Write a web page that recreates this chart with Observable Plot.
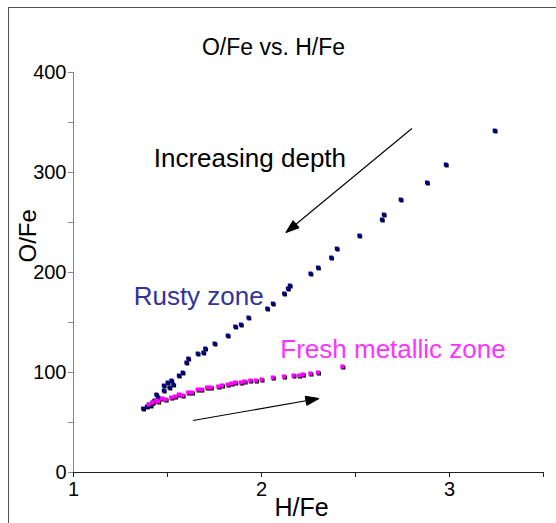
<!DOCTYPE html>
<html><head><meta charset="utf-8">
<script src="https://cdn.jsdelivr.net/npm/d3@7"></script>
<script src="https://cdn.jsdelivr.net/npm/@observablehq/plot@0.6"></script>
<style>
body{margin:0;background:#fff;}
#wrap{position:relative;width:556px;height:523px;overflow:hidden;}
#frame{position:absolute;left:8px;top:7px;width:600px;height:600px;border-top:1px solid #555;border-left:1px solid #555;}
#chart{position:absolute;left:0;top:0;}
</style>
</head><body><div id="wrap"><div id="frame"></div><div id="chart"></div></div>
<script>
const title = "O/Fe vs. H/Fe";
const xLabel = "H/Fe";
const yLabel = "O/Fe";
const xTicks = [1, 1.5, 2, 2.5, 3, 3.5];
const xTickLabels = [1, 2, 3];
const yTicks = [0, 50, 100, 150, 200, 250, 300, 350, 400];
const yTickLabels = [0, 100, 200, 300, 400];

const rustyH = [1.37,1.39,1.40,1.41,1.42,1.43,1.45,1.44,1.48,1.48,1.51,1.50,1.52,1.53,1.56,1.58,1.60,1.61,1.66,1.69,1.70,1.75,1.82,1.86,1.89,1.93,2.03,2.06,2.12,2.14,2.15,2.26,2.30,2.37,2.40,2.52,2.64,2.65,2.74,2.88,2.98,3.24];
const rustyO = [64,66,68,67,70,72,75,78,82,87,85,90,92,88,97,100,110,114,119,120,124,129,137,146,148,155,164,169,179,184,187,199,205,215,224,237,253,258,273,290,308,342];

const freshH = [1.40,1.42,1.44,1.45,1.47,1.49,1.52,1.54,1.56,1.58,1.61,1.63,1.66,1.68,1.71,1.73,1.77,1.79,1.82,1.84,1.86,1.89,1.91,1.94,1.97,2.00,2.06,2.12,2.17,2.20,2.22,2.26,2.30,2.43];
const freshO = [68,70,72,71,74,73,75,76,78,77,80,80,83,83,85,85,86,87,88,89,90,90,91,92,92,93,95,96,97,97,98,99,100,106];

const notes = [
  {text: "Increasing depth", h: 1.427, o: 314, color: "#000000"},
  {text: "Rusty zone", h: 1.32, o: 176, color: "#333399"},
  {text: "Fresh metallic zone", h: 2.10, o: 123, color: "#ff33ff"}
];
const arrows = [
  {h1: 2.80, o1: 344, h2: 2.13, o2: 240},
  {h1: 1.635, o1: 52, h2: 2.305, o2: 74}
];

const rusty = rustyH.map((h, i) => ({h, o: rustyO[i]}));
const fresh = freshH.map((h, i) => ({h, o: freshO[i]}));
const font = "Liberation Sans, Arial, sans-serif";

function filledHeads(index, scales, values, dims, ctx, next) {
  const g = next(index, scales, values, dims, ctx);
  const ns = "http://www.w3.org/2000/svg";
  const L = 13, W = 4.5;
  for (const i of index) {
    const x1 = values.x1[i], y1 = values.y1[i], x2 = values.x2[i], y2 = values.y2[i];
    const a = Math.atan2(y2 - y1, x2 - x1);
    const bx = x2 - L * Math.cos(a), by = y2 - L * Math.sin(a);
    const px = -Math.sin(a) * W, py = Math.cos(a) * W;
    const p = document.createElementNS(ns, "polygon");
    p.setAttribute("points", `${x2},${y2} ${bx + px},${by + py} ${bx - px},${by - py}`);
    p.setAttribute("fill", "#000");
    g.appendChild(p);
  }
  return g;
}

const chart = Plot.plot({
  width: 556, height: 523,
  marginLeft: 73, marginRight: 13, marginTop: 72, marginBottom: 51,
  style: {fontFamily: font, background: "transparent"},
  x: {domain: [1, 3.5], axis: null},
  y: {domain: [0, 400], axis: null},
  marks: [
    Plot.ruleX([1], {stroke: "#888"}),
    Plot.ruleY([0], {stroke: "#222"}),
    Plot.axisY({ticks: yTicks, tickFormat: d => yTickLabels.includes(d) ? String(d) : "", fontSize: 20, tickSize: 5, tickPadding: 2, stroke: "#888", fill: "#000", anchor: "left"}),
    Plot.axisX({ticks: xTicks, tickFormat: d => xTickLabels.includes(d) ? String(d) : "", fontSize: 20, tickSize: 5, tickPadding: 4, stroke: "#222", fill: "#000", anchor: "bottom"}),
    Plot.dot(rusty, {x: "h", y: "o", symbol: "square", r: 2.2, fill: "#000", dx: 1, dy: 1}),
    Plot.dot(rusty, {x: "h", y: "o", symbol: "square", r: 2.2, fill: "#000080"}),
    Plot.dot(fresh, {x: "h", y: "o", symbol: "square", r: 2.3, fill: "#000", dx: 1, dy: 1}),
    Plot.dot(fresh, {x: "h", y: "o", symbol: "square", r: 2.3, fill: "#ff00ff"}),
    Plot.link(arrows, {x1: "h1", y1: "o1", x2: "h2", y2: "o2", stroke: "#000", strokeWidth: 1.1, render: filledHeads}),
    Plot.text(notes, {x: "h", y: "o", text: "text", fill: "color", textAnchor: "start", fontSize: 26}),
    Plot.text([title], {frameAnchor: "top", dx: -35, dy: -34, fontSize: 23}),
    Plot.text([yLabel], {frameAnchor: "left", dx: -45, dy: -10, rotate: -90, fontSize: 24}),
    Plot.text([xLabel], {frameAnchor: "bottom", dx: -7, dy: 43, fontSize: 25})
  ]
});
document.getElementById("chart").append(chart);
</script>
</body></html>
